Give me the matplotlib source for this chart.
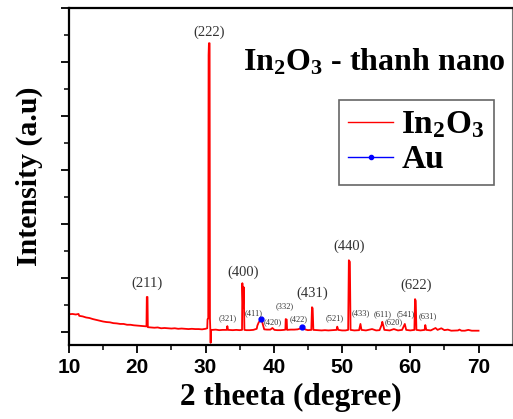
import numpy as np
import matplotlib.pyplot as plt
from matplotlib.lines import Line2D
from matplotlib.ticker import MultipleLocator

two_theta = [10.0, 10.5, 11.0, 11.4, 11.5, 12.0, 12.5, 13.0, 13.5, 14.0, 14.5, 15.0, 15.5, 16.0,
             16.5, 17.0, 17.5, 18.0, 18.5, 19.0, 19.5, 20.0, 20.5, 21.0, 21.35, 21.4, 21.5, 21.55,
             22.0, 22.5, 23.0, 23.5, 24.0, 24.5, 25.0, 25.5, 26.0, 26.5, 27.0, 27.5, 28.0, 28.5,
             29.0, 29.5, 30.0, 30.25, 30.3, 30.4, 30.45, 30.5, 30.6, 30.65, 30.7, 30.75, 30.8,
             31.0, 31.5, 32.0, 32.5, 33.1, 33.2, 33.3, 34.0, 34.5, 35.0, 35.35, 35.4, 35.5, 35.6,
             35.7, 36.0, 36.5, 37.0, 37.5, 37.6, 37.8, 38.0, 38.2, 38.4, 38.6, 39.0, 39.5, 39.8,
             40.1, 40.5, 41.0, 41.5, 41.7, 41.75, 41.9, 41.95, 42.5, 43.0, 43.5, 44.0, 44.2, 44.4,
             44.7, 45.0, 45.5, 45.6, 45.7, 45.8, 46.5, 47.0, 47.5, 48.0, 48.5, 49.2, 49.3, 49.45,
             50.0, 50.5, 50.9, 51.0, 51.15, 51.25, 51.8, 52.5, 52.7, 52.85, 53.5, 54.4, 55.0, 55.5,
             55.8, 55.9, 56.05, 56.2, 57.0, 57.6, 58.2, 58.8, 59.2, 59.4, 60.0, 60.6, 60.7, 60.8,
             60.9, 61.5, 62.1, 62.2, 62.35, 63.0, 63.7, 64.0, 64.55, 65.0, 65.5, 66.0, 67.0, 67.2,
             67.5, 68.0, 68.5, 69.0, 70.0]
intensity = [330, 335, 325, 335, 300, 290, 270, 260, 240, 225, 210, 195, 185, 180,
             165, 160, 150, 150, 135, 135, 125, 120, 115, 110, 105, 650, 650, 90,
             85, 80, 85, 70, 75, 70, 65, 70, 60, 65, 60, 55, 60, 55,
             55, 50, 60, 70, 240, 250, 5130, 5350, 5350, 250, 60, -200, 40,
             40, 45, 35, 40, 40, 110, 40, 35, 40, 35, 40, 905, 450, 830,
             40, 35, 35, 40, 60, 120, 180, 210, 240, 140, 50, 45, 45, 75,
             40, 35, 35, 40, 45, 240, 230, 40, 45, 45, 50, 70, 90, 60,
             45, 35, 40, 460, 440, 40, 35, 30, 35, 30, 35, 40, 100, 40,
             30, 30, 40, 1330, 1300, 40, 30, 35, 150, 40, 30, 55, 30, 35,
             130, 190, 120, 40, 30, 55, 30, 40, 150, 40, 30, 40, 610, 580,
             40, 30, 40, 130, 40, 30, 75, 40, 70, 35, 45, 25, 30, 45,
             25, 25, 40, 25, 25]

au_theta = [38.1, 44.2]
au_intensity = [240, 90]

big_labels = ["(211)", "(222)", "(400)", "(431)", "(440)", "(622)"]
big_x = [21.4, 30.5, 35.5, 45.7, 51.1, 60.8]
big_y = [905, 5550, 1110, 720, 1590, 870]

small_labels = ["(321)", "(411)", "(420)", "(332)", "(422)", "(521)", "(433)",
                "(611)", "(620)", "(541)", "(631)"]
small_x = [33.3, 37.0, 39.8, 41.6, 43.7, 48.9, 52.75, 55.9, 57.6, 59.3, 62.5]
small_y = [260, 350, 190, 480, 240, 250, 345, 335, 180, 335, 285]

# CONFIGURACION DEL GRÁFICO
serif = "Liberation Serif"
plt.rcParams['mathtext.fontset'] = 'custom'
plt.rcParams['mathtext.rm'] = 'Liberation Serif:bold'
plt.rcParams['mathtext.bf'] = 'Liberation Serif:bold'

fig = plt.figure(figsize=(5.13, 4.19), dpi=100)
ax = fig.add_axes([0.1345, 0.1766, 0.8635, 0.804])

ax.plot(two_theta, intensity, color="red", lw=1.3)
ax.plot(au_theta, au_intensity, color="blue", marker="o", ms=3.5, ls="none")

for lab, x, y in zip(big_labels, big_x, big_y):
    ax.text(x, y, lab, ha="center", va="center", fontsize=10.5, family=serif, color="#333333")
for lab, x, y in zip(small_labels, small_x, small_y):
    ax.text(x, y, lab, ha="center", va="center", fontsize=6, family=serif, color="#333333")

ax.text(0.393, 0.84, r"$\mathbf{In_2O_3}$ - thanh nano", transform=ax.transAxes,
        ha="left", va="center", fontsize=23, family=serif, fontweight="bold")

h = [Line2D([], [], color="red", lw=1),
     Line2D([], [], color="blue", lw=1, marker="o", ms=3)]
leg = ax.legend(h, [r"$\mathbf{In_2O_3}$", "Au"], loc="upper left", bbox_to_anchor=(0.609, 0.727),
                borderaxespad=0, fancybox=False, framealpha=1, handlelength=1.35,
                prop={"family": serif, "weight": "bold", "size": 24},
                borderpad=0.28, labelspacing=0.12, handletextpad=0.25)
leg.get_frame().set_edgecolor("#666666")
leg.get_frame().set_linewidth(1.2)

ax.set_xlim(10, 74.9)
ax.set_ylim(-240, 6000)
ax.xaxis.set_major_locator(MultipleLocator(10))
ax.xaxis.set_minor_locator(MultipleLocator(5))
ax.yaxis.set_major_locator(MultipleLocator(1000))
ax.yaxis.set_minor_locator(MultipleLocator(500))
ax.set_yticklabels([])
ax.tick_params(axis="both", which="major", direction="out", length=6, width=1.3)
ax.tick_params(axis="both", which="minor", direction="out", length=3.5, width=1.1)
ax.tick_params(axis="y", which="both", labelleft=False)
for lab in ax.get_xticklabels():
    lab.set_fontfamily("Liberation Sans")
    lab.set_fontweight("bold")
    lab.set_fontsize(15)

for s in ["left", "bottom", "top"]:
    ax.spines[s].set_linewidth(1.6)
ax.spines["right"].set_linewidth(0.8)
ax.spines["right"].set_color("#777777")

ax.set_xlabel("2 theeta (degree)", family=serif, fontweight="bold", fontsize=22.5, labelpad=4)
ax.set_ylabel("Intensity (a.u)", family=serif, fontweight="bold", fontsize=21.5, labelpad=13)

plt.savefig("out.png", dpi=100)
